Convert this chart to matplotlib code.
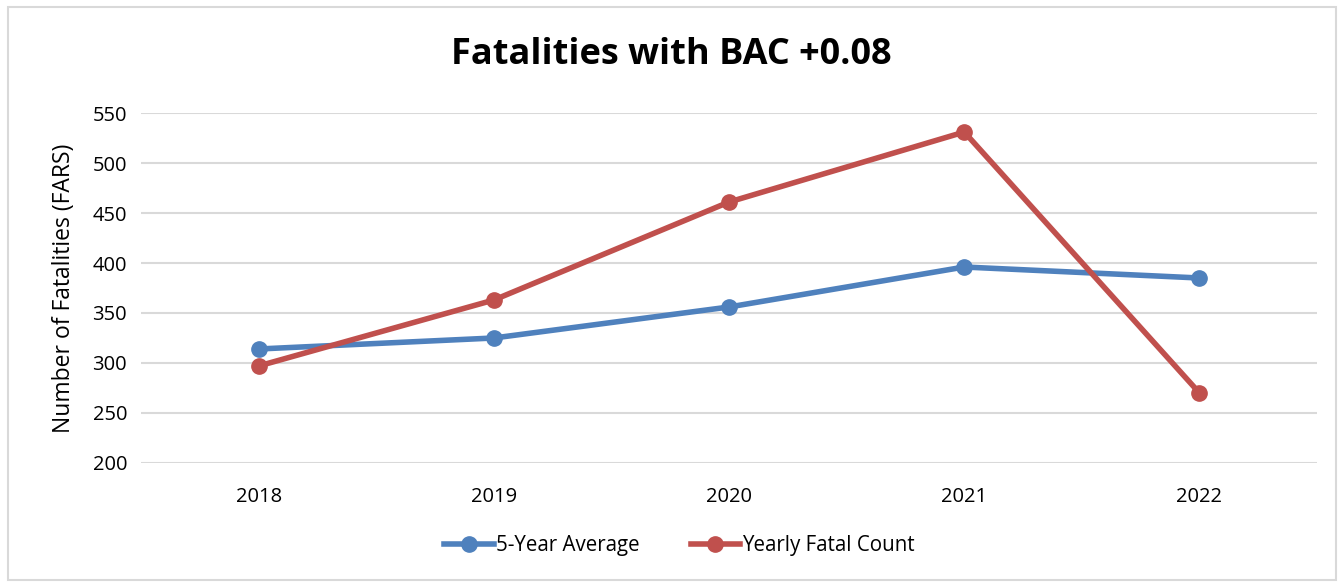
import numpy as np
import matplotlib.pyplot as plt
from matplotlib.patches import Rectangle

years = ['2018', '2019', '2020', '2021', '2022']
avg5 = [314, 325, 356, 396, 385]
yearly = [297, 363, 461, 531, 270]

plt.rcParams['font.family'] = ['Open Sans', 'DejaVu Sans']

fig = plt.figure(figsize=(13.43, 5.82), dpi=100)
ax = fig.add_axes([0.105, 0.2045, 0.8757, 0.6013])

x = np.arange(len(years))
ax.plot(x, avg5, '-o', color='#4F81BD', lw=4, ms=11, label='5-Year Average')
ax.plot(x, yearly, '-o', color='#C0504D', lw=4, ms=11, label='Yearly Fatal Count')

ax.set_xlim(-0.5, 4.5)
ax.set_ylim(200, 550)
ax.set_yticks(range(200, 551, 50))
ax.set_xticks(x)
ax.set_xticklabels(years)
ax.grid(axis='y', color='#D9D9D9', lw=1.5)
ax.set_axisbelow(True)
for s in ax.spines.values():
    s.set_visible(False)
ax.tick_params(length=0, labelsize=14.5, pad=10)
ax.tick_params(axis='x', pad=17)

ax.set_ylabel('Number of Fatalities (FARS)', fontsize=16.5, labelpad=12)
fig.text(0.5, 0.905, 'Fatalities with BAC +0.08', ha='center', va='center',
         fontsize=26, fontweight='bold')

fig.legend(loc='center', bbox_to_anchor=(0.506, 0.062), ncol=2, frameon=False,
           fontsize=14.8, handlelength=2.4, handletextpad=0.1, columnspacing=2.5)

fig.patches.append(Rectangle((0.006, 0.003), 0.989, 0.985, transform=fig.transFigure,
                             fill=False, edgecolor='#D9D9D9', lw=1.5))

plt.savefig('out.png', dpi=100)
